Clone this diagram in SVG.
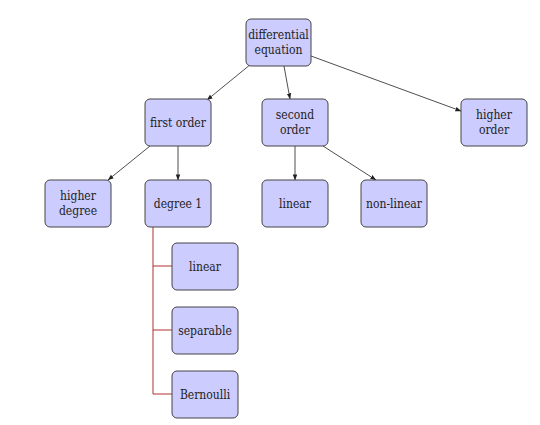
<svg xmlns="http://www.w3.org/2000/svg" width="540" height="425" viewBox="0 0 540 425">
<defs>
<style>
.box{fill:#ccccff;stroke:#444;stroke-width:1}
text{font-family:'DejaVu Serif Condensed','DejaVu Serif',serif;font-stretch:condensed;font-size:12px;fill:#222;text-anchor:middle}
.e{stroke:#222;stroke-width:0.8;fill:none;marker-end:url(#ah)}
.r{stroke:#b03030;stroke-width:1;fill:none}
</style>
<marker id="ah" viewBox="0 0 8 8" refX="7.5" refY="4" markerWidth="6" markerHeight="6" orient="auto" markerUnits="userSpaceOnUse">
<path d="M0,1 L8,4 L0,7 z" fill="#222"/>
</marker>
</defs>
<rect width="540" height="425" fill="#fff"/>
<g id="connectors">
<line class="e" x1="251" y1="64" x2="207" y2="100"/>
<line class="e" x1="284" y1="66" x2="290" y2="99"/>
<line class="e" x1="311" y1="56" x2="461" y2="111"/>
<line class="e" x1="150" y1="146" x2="108" y2="180"/>
<line class="e" x1="178" y1="146" x2="178" y2="180"/>
<line class="e" x1="295" y1="146" x2="295" y2="180"/>
<line class="e" x1="323" y1="146" x2="376" y2="180"/>
<path class="r" d="M153,227 V394 H172 M153,266 H172 M153,330 H172"/>
</g>
<g id="n-diffeq"><rect class="box" x="246" y="19" width="65" height="47" rx="5"/><text x="278.5" y="39">differential</text><text x="278.5" y="54">equation</text></g>
<g id="n-first"><rect class="box" x="145" y="99" width="66" height="47" rx="5"/><text x="178" y="127">first order</text></g>
<g id="n-second"><rect class="box" x="262" y="99" width="66" height="47" rx="5"/><text x="295" y="119">second</text><text x="295" y="134">order</text></g>
<g id="n-higherorder"><rect class="box" x="461" y="99" width="66" height="47" rx="5"/><text x="494" y="119">higher</text><text x="494" y="134">order</text></g>
<g id="n-higherdegree"><rect class="box" x="45" y="180" width="66" height="47" rx="5"/><text x="78" y="200">higher</text><text x="78" y="215">degree</text></g>
<g id="n-degree1"><rect class="box" x="145" y="180" width="66" height="47" rx="5"/><text x="178" y="208">degree 1</text></g>
<g id="n-linear2"><rect class="box" x="262" y="180" width="66" height="47" rx="5"/><text x="295" y="208">linear</text></g>
<g id="n-nonlinear"><rect class="box" x="361" y="180" width="66" height="47" rx="5"/><text x="394" y="208">non-linear</text></g>
<g id="n-linear1"><rect class="box" x="172" y="243" width="66" height="47" rx="5"/><text x="205" y="271">linear</text></g>
<g id="n-separable"><rect class="box" x="172" y="307" width="66" height="47" rx="5"/><text x="205" y="335">separable</text></g>
<g id="n-bernoulli"><rect class="box" x="172" y="371" width="66" height="47" rx="5"/><text x="205" y="399">Bernoulli</text></g>
</svg>
